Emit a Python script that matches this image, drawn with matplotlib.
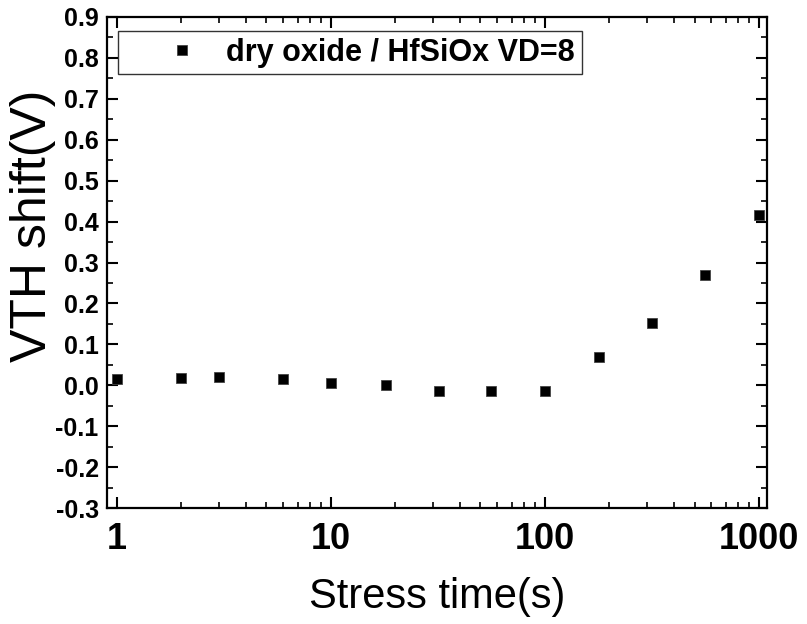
import numpy as np
import matplotlib
matplotlib.use('Agg')
import matplotlib.pyplot as plt
from matplotlib.ticker import FixedLocator, LogLocator, NullFormatter
from matplotlib.legend_handler import HandlerLine2D

# stress time (s) and threshold voltage shift (V)
stress_time = [1, 2, 3, 6, 10, 18, 32, 56, 100, 178, 316, 562, 1000]
vth_shift = [0.015, 0.018, 0.020, 0.015, 0.006, 0.000, -0.015, -0.013,
             -0.015, 0.068, 0.152, 0.270, 0.417]
series_label = 'dry oxide / HfSiOx VD=8'
x_ticks = [1, 10, 100, 1000]
x_tick_labels = ['1', '10', '100', '1000']
y_ticks = [-0.3, -0.2, -0.1, 0.0, 0.1, 0.2, 0.3, 0.4, 0.5, 0.6, 0.7, 0.8, 0.9]

plt.rcParams['font.family'] = ['Liberation Sans', 'DejaVu Sans']

fig = plt.figure(figsize=(8.07, 6.24), dpi=100)
ax = fig.add_axes([107 / 807, 1 - 508 / 624, 660 / 807, 491 / 624])

line, = ax.plot(stress_time, vth_shift, linestyle='none', marker='s',
                markersize=7.5, color='black', markeredgecolor='#444444',
                markeredgewidth=0.6, label=series_label)

ax.set_xscale('log')
ax.set_xlim(0.9, 1090)
ax.set_ylim(-0.3, 0.9)

ax.xaxis.set_major_locator(FixedLocator(x_ticks))
ax.set_xticklabels(x_tick_labels, fontsize=26, fontweight='bold')
ax.xaxis.set_minor_locator(LogLocator(base=10, subs=np.arange(2, 10)))
ax.xaxis.set_minor_formatter(NullFormatter())

ax.set_yticks(y_ticks)
ax.set_yticklabels(['%.1f' % v for v in y_ticks], fontsize=18, fontweight='bold')
ax.set_yticks(np.arange(-0.25, 0.9, 0.1), minor=True)

ax.tick_params(which='major', direction='in', length=8, width=1.5,
               top=True, right=True, pad=6)
ax.tick_params(which='minor', direction='in', length=4, width=1.2,
               top=True, right=True)
ax.tick_params(axis='x', which='major', pad=10)
for s in ax.spines.values():
    s.set_linewidth(1.6)

ax.set_xlabel('Stress time(s)', fontsize=30)
ax.xaxis.set_label_coords(0.5, -0.14)
ax.set_ylabel('VTH shift(V)', fontsize=36)
ax.yaxis.set_label_coords(-0.077, 0.574)

# marker sits right of the handle centre, as in the original
leg = ax.legend(loc='upper left', bbox_to_anchor=(0.0167, 0.9715),
                borderaxespad=0, prop={'weight': 'bold', 'size': 22},
                frameon=True, fancybox=False, edgecolor='black',
                borderpad=0.22, handletextpad=0.53, handlelength=2.8,
                handler_map={line: HandlerLine2D(numpoints=1, xpad=0.95)})
leg.get_frame().set_linewidth(1.0)

fig.savefig('out.png', dpi=100)
